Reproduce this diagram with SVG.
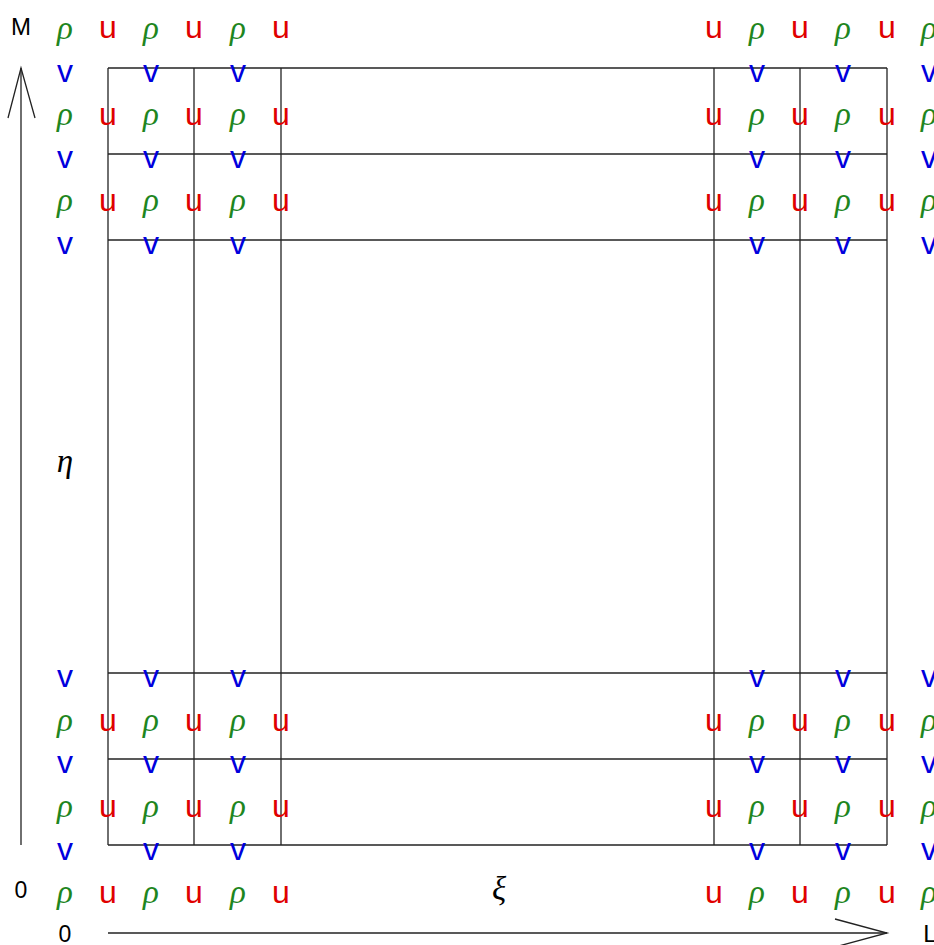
<svg xmlns="http://www.w3.org/2000/svg" width="934" height="945" viewBox="0 0 934 945">
<style>
.ln{stroke:#222;stroke-width:1.3;fill:none}
.r{font-family:"Liberation Serif","DejaVu Serif",serif;font-style:italic;font-size:33px;fill:#1e861e;text-anchor:middle}
.u{font-family:"Liberation Sans",Arial,sans-serif;font-size:32px;fill:#e00000;text-anchor:middle}
.v{font-family:"Liberation Sans",Arial,sans-serif;font-size:32px;fill:#0000dd;text-anchor:middle}
.k{font-family:"Liberation Sans",Arial,sans-serif;font-size:23px;fill:#000;text-anchor:middle}
.m{font-family:"Liberation Serif","DejaVu Serif",serif;font-style:italic;font-size:33px;fill:#000;text-anchor:middle}
</style>
<rect width="934" height="945" fill="#fff"/>
<g id="grid" class="ln">
<line x1="108" y1="68" x2="108" y2="845"/>
<line x1="194" y1="68" x2="194" y2="845"/>
<line x1="281" y1="68" x2="281" y2="845"/>
<line x1="714" y1="68" x2="714" y2="845"/>
<line x1="800" y1="68" x2="800" y2="845"/>
<line x1="887" y1="68" x2="887" y2="845"/>
<line x1="108" y1="68" x2="887" y2="68"/>
<line x1="108" y1="154" x2="887" y2="154"/>
<line x1="108" y1="240" x2="887" y2="240"/>
<line x1="108" y1="673" x2="887" y2="673"/>
<line x1="108" y1="759" x2="887" y2="759"/>
<line x1="108" y1="845" x2="887" y2="845"/>
</g>
<g id="axes" class="ln">
<line x1="21" y1="845" x2="21" y2="68"/>
<polyline points="8,118 21,68 35,118"/>
<line x1="108" y1="933" x2="887" y2="933"/>
<polyline points="835,919 887,933 835,947"/>
</g>
<g id="axis-labels">
<text class="k" x="21" y="35" style="font-size:24px">M</text>
<text class="k" x="21" y="898">0</text>
<text class="k" x="65" y="942">0</text>
<text class="k" x="930" y="942" style="font-size:24px">L</text>
<text class="m" x="65" y="472">η</text>
<text class="m" x="499" y="900">ξ</text>
</g>
<g id="rho-u-rows">
<g id="row-38">
<text class="r" x="65" y="39">ρ</text><text class="u" x="108" y="38">u</text>
<text class="r" x="151" y="39">ρ</text><text class="u" x="194" y="38">u</text>
<text class="r" x="238" y="39">ρ</text><text class="u" x="281" y="38">u</text>
<text class="u" x="714" y="38">u</text><text class="r" x="757" y="39">ρ</text>
<text class="u" x="800" y="38">u</text><text class="r" x="843" y="39">ρ</text>
<text class="u" x="887" y="38">u</text><text class="r" x="929" y="39">ρ</text>
</g>
<g id="row-125">
<text class="r" x="65" y="125">ρ</text><text class="u" x="108" y="125">u</text>
<text class="r" x="151" y="125">ρ</text><text class="u" x="194" y="125">u</text>
<text class="r" x="238" y="125">ρ</text><text class="u" x="281" y="125">u</text>
<text class="u" x="714" y="125">u</text><text class="r" x="757" y="125">ρ</text>
<text class="u" x="800" y="125">u</text><text class="r" x="843" y="125">ρ</text>
<text class="u" x="887" y="125">u</text><text class="r" x="929" y="125">ρ</text>
</g>
<g id="row-211">
<text class="r" x="65" y="211">ρ</text><text class="u" x="108" y="211">u</text>
<text class="r" x="151" y="211">ρ</text><text class="u" x="194" y="211">u</text>
<text class="r" x="238" y="211">ρ</text><text class="u" x="281" y="211">u</text>
<text class="u" x="714" y="211">u</text><text class="r" x="757" y="211">ρ</text>
<text class="u" x="800" y="211">u</text><text class="r" x="843" y="211">ρ</text>
<text class="u" x="887" y="211">u</text><text class="r" x="929" y="211">ρ</text>
</g>
<g id="row-731">
<text class="r" x="65" y="731">ρ</text><text class="u" x="108" y="731">u</text>
<text class="r" x="151" y="731">ρ</text><text class="u" x="194" y="731">u</text>
<text class="r" x="238" y="731">ρ</text><text class="u" x="281" y="731">u</text>
<text class="u" x="714" y="731">u</text><text class="r" x="757" y="731">ρ</text>
<text class="u" x="800" y="731">u</text><text class="r" x="843" y="731">ρ</text>
<text class="u" x="887" y="731">u</text><text class="r" x="929" y="731">ρ</text>
</g>
<g id="row-817">
<text class="r" x="65" y="817">ρ</text><text class="u" x="108" y="817">u</text>
<text class="r" x="151" y="817">ρ</text><text class="u" x="194" y="817">u</text>
<text class="r" x="238" y="817">ρ</text><text class="u" x="281" y="817">u</text>
<text class="u" x="714" y="817">u</text><text class="r" x="757" y="817">ρ</text>
<text class="u" x="800" y="817">u</text><text class="r" x="843" y="817">ρ</text>
<text class="u" x="887" y="817">u</text><text class="r" x="929" y="817">ρ</text>
</g>
<g id="row-903">
<text class="r" x="65" y="903">ρ</text><text class="u" x="108" y="903">u</text>
<text class="r" x="151" y="903">ρ</text><text class="u" x="194" y="903">u</text>
<text class="r" x="238" y="903">ρ</text><text class="u" x="281" y="903">u</text>
<text class="u" x="714" y="903">u</text><text class="r" x="757" y="903">ρ</text>
<text class="u" x="800" y="903">u</text><text class="r" x="843" y="903">ρ</text>
<text class="u" x="887" y="903">u</text><text class="r" x="929" y="903">ρ</text>
</g>
</g>
<g id="v-rows">
<g id="vrow-82"><text class="v" x="65" y="82">v</text><text class="v" x="151" y="82">v</text><text class="v" x="238" y="82">v</text><text class="v" x="757" y="82">v</text><text class="v" x="843" y="82">v</text><text class="v" x="929" y="82">v</text></g>
<g id="vrow-168"><text class="v" x="65" y="168">v</text><text class="v" x="151" y="168">v</text><text class="v" x="238" y="168">v</text><text class="v" x="757" y="168">v</text><text class="v" x="843" y="168">v</text><text class="v" x="929" y="168">v</text></g>
<g id="vrow-254"><text class="v" x="65" y="254">v</text><text class="v" x="151" y="254">v</text><text class="v" x="238" y="254">v</text><text class="v" x="757" y="254">v</text><text class="v" x="843" y="254">v</text><text class="v" x="929" y="254">v</text></g>
<g id="vrow-687"><text class="v" x="65" y="687">v</text><text class="v" x="151" y="687">v</text><text class="v" x="238" y="687">v</text><text class="v" x="757" y="687">v</text><text class="v" x="843" y="687">v</text><text class="v" x="929" y="687">v</text></g>
<g id="vrow-773"><text class="v" x="65" y="773">v</text><text class="v" x="151" y="773">v</text><text class="v" x="238" y="773">v</text><text class="v" x="757" y="773">v</text><text class="v" x="843" y="773">v</text><text class="v" x="929" y="773">v</text></g>
<g id="vrow-860"><text class="v" x="65" y="860">v</text><text class="v" x="151" y="860">v</text><text class="v" x="238" y="860">v</text><text class="v" x="757" y="860">v</text><text class="v" x="843" y="860">v</text><text class="v" x="929" y="860">v</text></g>
</g>
</svg>
